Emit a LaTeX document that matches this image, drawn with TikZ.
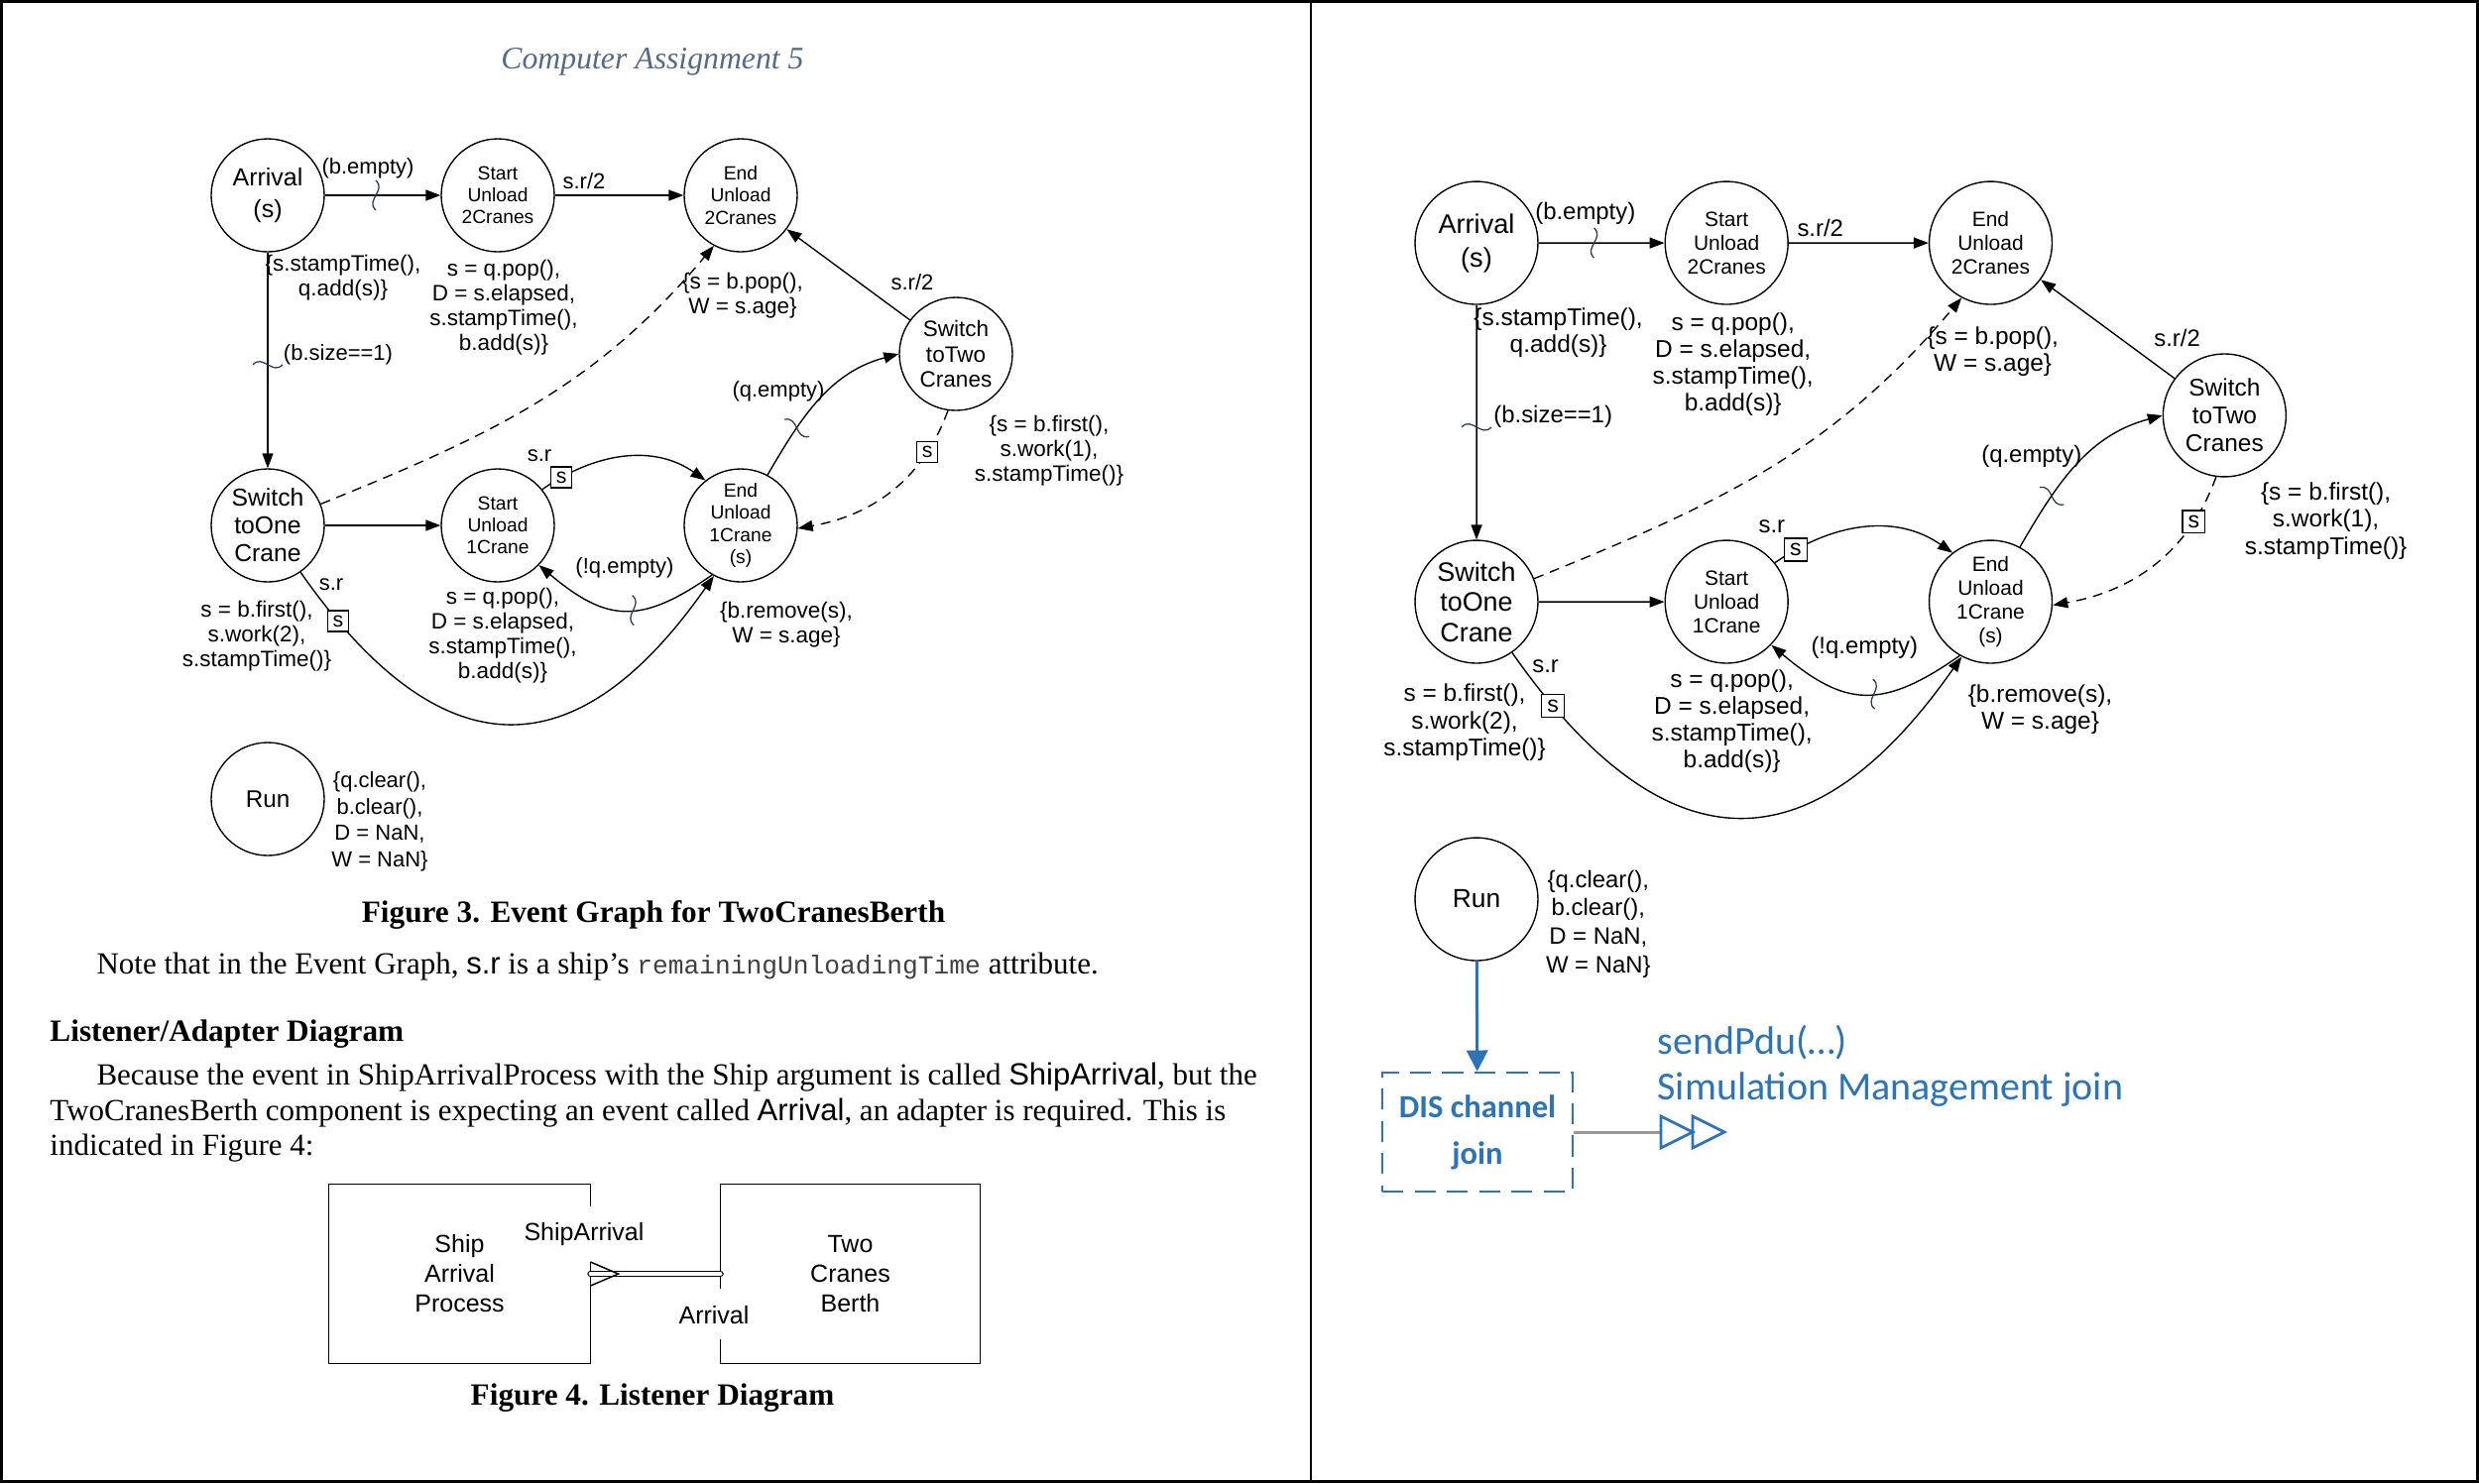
\documentclass[tikz,border=0pt]{standalone}
\usepackage{fontspec}
\setmainfont{Liberation Serif}
\setsansfont{Liberation Sans}
\setmonofont{Liberation Mono}
\newfontfamily\calib{Carlito}
\usetikzlibrary{arrows.meta,decorations.markings,calc}
\definecolor{hdr}{RGB}{88,105,130}
\definecolor{dblue}{RGB}{46,116,181}
\definecolor{squig}{RGB}{45,55,75}
\tikzset{
 ev/.style={circle, draw, line width=0.55pt, minimum size=45.6pt, inner sep=0pt, align=center, font=\sffamily\fontsize{7.7}{8.9}\selectfont},
 evA/.style={ev, font=\sffamily\fontsize{10}{12.5}\selectfont},
 evS/.style={ev, font=\sffamily\fontsize{9.9}{11.2}\selectfont},
 evT/.style={ev, font=\sffamily\fontsize{9}{10.3}\selectfont},
 evR/.style={ev, font=\sffamily\fontsize{9.7}{11}\selectfont},
 ann/.style={align=center, inner sep=0pt, font=\sffamily\fontsize{9}{10}\selectfont},
 annR/.style={ann, font=\sffamily\fontsize{8.8}{10.6}\selectfont},
 lbl/.style={inner sep=0pt, font=\sffamily\fontsize{8.8}{10}\selectfont},
 sbox/.style={draw, solid, rectangle, fill=white, line width=0.55pt, inner sep=0pt, minimum size=8.4pt, font=\sffamily\fontsize{8.5}{9}\selectfont},
 edge/.style={line width=0.55pt, -{Triangle[length=6pt,width=4.4pt]}},
 dedge/.style={edge, dash pattern=on 4pt off 2.8pt},
 squiggle/.style={-, solid, line width=0.5pt, draw=squig},
 cond/.style={postaction={decorate, decoration={markings, mark=at position #1 with {\draw[squiggle] (0,-15) .. controls (11,-5) and (-11,5) .. (0,15);}}}},
 body/.style={inner sep=0pt, anchor=west, font=\fontsize{12.4}{14}\selectfont},
 bodyb/.style={inner sep=0pt, font=\bfseries\fontsize{12.5}{14}\selectfont},
 fbox/.style={inner sep=0pt, align=center, font=\sffamily\fontsize{10}{12}\selectfont},
 fline/.style={line width=0.6pt},
}
\newcommand\eventgraph[1]{%
 \node[evA] (#1arr) at (270,197) {Arrival\\(s)};
 \node[ev] (#1su2) at (502,197) {Start\\Unload\\2Cranes};
 \node[ev] (#1eu2) at (747,197) {End\\Unload\\2Cranes};
 \node[evT] (#1st2) at (964,357) {Switch\\toTwo\\Cranes};
 \node[evS] (#1so1) at (270,530) {Switch\\toOne\\Crane};
 \node[ev] (#1su1) at (502,530) {Start\\Unload\\1Crane};
 \node[ev] (#1eu1) at (747,530) {End\\Unload\\1Crane\\(s)};
 \node[evR] (#1run) at (270,806) {Run};
 % edges
 \draw[edge, cond=0.44] (#1arr) -- (#1su2);
 \draw[edge] (#1su2) -- (#1eu2);
 \draw[edge, cond=0.52] (#1arr) -- (#1so1);
 \draw[edge] (#1so1) -- (#1su1);
 \draw[dedge] (#1so1.22) to[out=22, in=230] (#1eu2.242);
 \draw[edge] (#1su1.39) to[out=35, in=145] node[sbox, pos=0.12] (#1bx1) {s} (#1eu1.128);
 \draw[edge, cond=0.45] (#1eu1.240) to[out=215, in=-40, looseness=1.3] (#1su1.-44);
 \draw[edge] (#1so1.-55) to[out=-55, in=-125, looseness=1.5] node[sbox, pos=0.09] (#1bx2) {s} (#1eu1.-118);
 \draw[edge, cond=0.3] (#1eu1.62) to[out=60, in=195] (#1st2.180);
 \draw[dedge] (#1st2.262) to[out=250, in=10] node[sbox, pos=0.22] (#1bx3) {s} (#1eu1.-3);
 \draw[edge] (#1st2) -- (#1eu2);
 % edge labels
 \node[lbl] (#1l1) at (371,170) {(b.empty)};
 \node[lbl] (#1l2) at (589,183) {s.r/2};
 \node[lbl] (#1l3) at (341,358) {(b.size==1)};
 \node[lbl] (#1l4) at (785,395) {(q.empty)};
 \node[lbl] (#1l5) at (544,460) {s.r};
 \node[lbl] (#1l6) at (920,285) {s.r/2};
 \node[lbl] (#1l7) at (334,590) {s.r};
 \node[lbl] (#1l8) at (630,573) {(!q.empty)};
 % annotations
 \node[ann] (#1a1) at (346,280) {\{s.stampTime(),\\q.add(s)\}};
 \node[ann] (#1a2) at (508,310) {s = q.pop(),\\D = s.elapsed,\\s.stampTime(),\\b.add(s)\}};
 \node[ann] (#1a3) at (749,298) {\{s = b.pop(),\\W = s.age\}};
 \node[ann] (#1a4) at (1058,455) {\{s = b.first(),\\s.work(1),\\s.stampTime()\}};
 \node[ann] (#1a5) at (793,630) {\{b.remove(s),\\W = s.age\}};
 \node[ann] (#1a6) at (259,642) {s = b.first(),\\s.work(2),\\s.stampTime()\}};
 \node[ann] (#1a7) at (507,641) {s = q.pop(),\\D = s.elapsed,\\s.stampTime(),\\b.add(s)\}};
 \node[annR] (#1a8) at (383,829) {\{q.clear(),\\b.clear(),\\D = NaN,\\W = NaN\}};
}
\begin{document}
\begin{tikzpicture}[x=0.4pt, y=-0.4pt]
\useasboundingbox (0,0) rectangle (2500,1496);
\draw[line width=1.2pt] (1.5,1.5) rectangle (2498.5,1494.5);
\draw[line width=1pt] (1322,0) -- (1322,1496);
% header
\node[font=\itshape\fontsize{12.7}{15}\selectfont, text=hdr, inner sep=0pt] (hdr) at (658,62) {Computer Assignment 5};
% left event graph
\eventgraph{L}
% right event graph
\begin{scope}[shift={(1195.5,30.9)}, scale=1.087, transform shape]
\eventgraph{R}
\end{scope}
% captions and body text
\node[bodyb] (cap3) at (659,923) {Figure 3. Event Graph for TwoCranesBerth};
\node[body] (t1) at (97,975) {Note that in the Event Graph, {\sffamily s.r} is a ship’s {\ttfamily\fontsize{10.5}{12}\selectfont\color{black!75}remainingUnloadingTime} attribute.};
\node[bodyb, anchor=west] (h2) at (50,1043) {Listener/Adapter Diagram};
\node[body] (t2) at (97,1087) {Because the event in ShipArrivalProcess with the Ship argument is called {\sffamily ShipArrival}, but the};
\node[body] (t3) at (50,1123) {TwoCranesBerth component is expecting an event called {\sffamily Arrival}, an adapter is required. This is};
\node[body] (t4) at (50,1158) {indicated in Figure 4:};
% figure 4
\node[fbox, minimum width=105.2pt, minimum height=72pt] (sap) at (463.5,1285) {Ship\\Arrival\\Process};
\node[fbox, minimum width=104.4pt, minimum height=72pt] (tcb) at (857.5,1285) {Two\\Cranes\\Berth};
\draw[fline] ($(sap.north east)+(0,22)$) -- (sap.north east) -- (sap.north west) -- (sap.south west) -- (sap.south east) -- ($(sap.south east)+(0,-103)$);
\draw[fline] ($(tcb.north west)+(0,105)$) -- (tcb.north west) -- (tcb.north east) -- (tcb.south east) -- (tcb.south west) -- ($(tcb.south west)+(0,-25)$);
\node[fbox] (lsa) at (589,1245) {ShipArrival};
\node[fbox] (lar) at (720,1327) {Arrival};
\draw[double, double distance=1.6pt, line width=0.5pt, line cap=round] (sap.east) -- (tcb.west);
\draw[line width=0.6pt] ($(sap.east)+(0,-12)$) -- ($(sap.east)+(28,0)$) -- ($(sap.east)+(0,12)$);
\node[bodyb] (cap4) at (658,1410) {Figure 4. Listener Diagram};
% DIS part
\node[draw=dblue, dash pattern=on 8.5pt off 4.5pt, line width=1pt, minimum width=76.8pt, minimum height=48pt, inner sep=0pt, align=center, text=dblue, font=\calib\bfseries\fontsize{13}{18.8}\selectfont] (dis) at (1490,1142) {DIS channel\\join};
\draw[dblue, line width=1.2pt, -{Triangle[length=8.5pt,width=8.5pt]}] (Rrun) -- (dis);
\coordinate (tri) at (1675,1142);
\draw[gray!80, line width=1.2pt] (dis.east) -- (tri);
\draw[dblue, line width=1.1pt] (tri) ++(0,-16) -- ++(32,16) -- ++(-32,16) -- cycle;
\draw[dblue, line width=1.1pt] ($(tri)+(32,-16)$) -- ++(32,16) -- ++(-32,16) -- cycle;
\node[anchor=west, align=left, text=dblue, font=\calib\fontsize{16}{18.5}\selectfont, inner sep=0pt] (spdu) at (1671,1075) {sendPdu(…)\\Simulation Management join};
\end{tikzpicture}
\end{document}
